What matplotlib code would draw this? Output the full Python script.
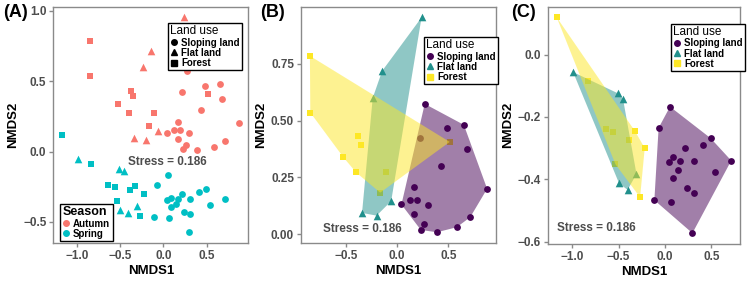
#!/usr/bin/env python3
"""
NMDS ordination of communities by season and land use.
(A) both seasons, (B) autumn with convex hulls, (C) spring with convex hulls.
"""

import numpy as np
import matplotlib.pyplot as plt
from matplotlib.lines import Line2D
from matplotlib.patches import Polygon

plt.rcParams['font.family'] = ['Liberation Sans', 'DejaVu Sans']

# ---- data (NMDS1, NMDS2) ----
land_uses = ["Sloping land", "Flat land", "Forest"]
seasons = ["Autumn", "Spring"]

autumn_sloping_x = [0.269, 0.219, 0.485, 0.650, 0.677, 0.431, 0.877, 0.162, 0.042,
                    0.123, 0.192, 0.296, 0.165, 0.258, 0.231, 0.388, 0.581, 0.712]
autumn_sloping_y = [0.573, 0.423, 0.465, 0.481, 0.376, 0.298, 0.200, 0.209, 0.131,
                    0.150, 0.150, 0.129, 0.089, 0.047, 0.019, 0.009, 0.031, 0.075]
autumn_flat_x = [0.238, -0.146, -0.238, -0.342, -0.200, -0.058]
autumn_flat_y = [0.953, 0.718, 0.599, 0.094, 0.082, 0.146]
autumn_forest_x = [-0.850, -0.846, -0.377, -0.350, -0.523, -0.400, -0.108, -0.165, 0.512]
autumn_forest_y = [0.784, 0.535, 0.432, 0.392, 0.338, 0.272, 0.272, 0.183, 0.406]

spring_sloping_x = [0.054, -0.069, 0.215, 0.038, 0.085, 0.165, 0.142, 0.088, 0.308,
                    0.415, 0.492, 0.538, 0.715, 0.235, 0.308, -0.115, 0.062, 0.296]
spring_sloping_y = [-0.167, -0.235, -0.300, -0.345, -0.329, -0.340, -0.371, -0.397, -0.340,
                    -0.289, -0.268, -0.376, -0.340, -0.427, -0.444, -0.467, -0.472, -0.573]
spring_flat_x = [-0.992, -0.508, -0.454, -0.308, -0.496, -0.404]
spring_flat_y = [-0.056, -0.124, -0.141, -0.383, -0.413, -0.434]
spring_forest_x = [-1.169, -0.831, -0.638, -0.562, -0.392, -0.323, -0.219, -0.535, -0.269]
spring_forest_y = [0.120, -0.085, -0.237, -0.249, -0.275, -0.246, -0.300, -0.352, -0.458]

stress = 0.186

# ---- styling ----
season_colors = {"Autumn": "#F8766D", "Spring": "#00BFC4"}
land_colors = {"Sloping land": "#440154", "Flat land": "#21908C", "Forest": "#FDE725"}
land_markers = {"Sloping land": "o", "Flat land": "^", "Forest": "s"}
marker_size = {"o": 24, "^": 30, "s": 21}
border_col = "#8a8a8a"
tick_col = "#4D4D4D"

data = {
    "Autumn": {
        "Sloping land": (autumn_sloping_x, autumn_sloping_y),
        "Flat land": (autumn_flat_x, autumn_flat_y),
        "Forest": (autumn_forest_x, autumn_forest_y),
    },
    "Spring": {
        "Sloping land": (spring_sloping_x, spring_sloping_y),
        "Flat land": (spring_flat_x, spring_flat_y),
        "Forest": (spring_forest_x, spring_forest_y),
    },
}


def convex_hull(xs, ys):
    # monotone chain
    pts = sorted(set(zip(xs, ys)))
    if len(pts) < 3:
        return pts

    def cross(o, a, b):
        return (a[0] - o[0]) * (b[1] - o[1]) - (a[1] - o[1]) * (b[0] - o[0])

    lower = []
    for p in pts:
        while len(lower) >= 2 and cross(lower[-2], lower[-1], p) <= 0:
            lower.pop()
        lower.append(p)
    upper = []
    for p in reversed(pts):
        while len(upper) >= 2 and cross(upper[-2], upper[-1], p) <= 0:
            upper.pop()
        upper.append(p)
    return lower[:-1] + upper[:-1]


def style_axes(ax, xticks, yticks, ylabels=None):
    for s in ax.spines.values():
        s.set_color(border_col)
        s.set_linewidth(1.0)
    ax.set_xticks(xticks)
    ax.set_yticks(yticks)
    ax.set_xticklabels([("%.1f" % t).replace("-", "\u2212") for t in xticks])
    if ylabels is None:
        ylabels = [("%.1f" % t).replace("-", "\u2212") for t in yticks]
    ax.set_yticklabels(ylabels)
    ax.tick_params(colors=border_col, labelcolor=tick_col, labelsize=8.5,
                   length=3, width=1, pad=2)
    for lab in ax.get_xticklabels() + ax.get_yticklabels():
        lab.set_fontweight("bold")
    ax.set_xlabel("NMDS1", fontsize=9.5, fontweight="bold", labelpad=2)
    ax.set_ylabel("NMDS2", fontsize=9.5, fontweight="bold", labelpad=3)


def set_limits(ax, xs, ys):
    xs, ys = np.asarray(xs), np.asarray(ys)
    dx = (xs.max() - xs.min()) * 0.05
    dy = (ys.max() - ys.min()) * 0.05
    ax.set_xlim(xs.min() - dx, xs.max() + dx)
    ax.set_ylim(ys.min() - dy, ys.max() + dy)


def add_legend(ax, handles, title, anchor, title_size=8.5, title_bold=False):
    leg = ax.legend(handles=handles, title=title, loc="upper left",
                    bbox_to_anchor=anchor, borderaxespad=0, frameon=True,
                    fancybox=False, edgecolor="black", framealpha=1,
                    prop={"size": 7, "weight": "bold"},
                    handlelength=0.8, handletextpad=0.3, labelspacing=0.02,
                    borderpad=0.25)
    leg.get_frame().set_linewidth(1.0)
    leg.get_title().set_fontsize(title_size)
    if title_bold:
        leg.get_title().set_fontweight("bold")
    leg._legend_box.align = "left"
    return leg


fig = plt.figure(figsize=(7.47, 2.84), dpi=100)
axA = fig.add_axes([0.0714, 0.1444, 0.261, 0.832])
axB = fig.add_axes([0.4030, 0.1444, 0.261, 0.832])
axC = fig.add_axes([0.7336, 0.1410, 0.257, 0.836])

# ---- (A) both seasons ----
all_x, all_y = [], []
for season in seasons:
    for lu in land_uses:
        x, y = data[season][lu]
        all_x += x
        all_y += y
        m = land_markers[lu]
        axA.scatter(x, y, marker=m, s=marker_size[m], color=season_colors[season],
                    linewidths=0, zorder=3)
set_limits(axA, all_x, all_y)
style_axes(axA, [-1.0, -0.5, 0.0, 0.5], [-0.5, 0.0, 0.5, 1.0])
axA.text(0.05, -0.075, "Stress = %.3f" % stress, ha="center", va="center",
         fontsize=8.5, fontweight="bold", color=tick_col)

land_handles = [Line2D([], [], ls="", marker=land_markers[lu], color="black",
                       markersize=4, label=lu) for lu in land_uses]
legA1 = add_legend(axA, land_handles, "Land use", (0.588, 0.931))
axA.add_artist(legA1)
season_handles = [Line2D([], [], ls="", marker="o", color=season_colors[s],
                         markersize=4, label=s) for s in seasons]
add_legend(axA, season_handles, "Season", (0.034, 0.165), title_size=9, title_bold=True)

# ---- (B) autumn, (C) spring with hulls ----
for ax, season, ticks, stress_xy, leg_anchor in [
        (axB, "Autumn", ([-0.5, 0.0, 0.5], [0.0, 0.25, 0.5, 0.75]), (-0.34, 0.022), (0.631, 0.872)),
        (axC, "Spring", ([-1.0, -0.5, 0.0, 0.5], [-0.6, -0.4, -0.2, 0.0]), (-0.74, -0.557), (0.64, 0.927))]:
    sx, sy = [], []
    for lu in land_uses:
        x, y = data[season][lu]
        sx += x
        sy += y
        m = land_markers[lu]
        ax.scatter(x, y, marker=m, s=marker_size[m], color=land_colors[lu],
                   linewidths=0, zorder=2)
        hull = convex_hull(x, y)
        ax.add_patch(Polygon(hull, closed=True, facecolor=land_colors[lu],
                             edgecolor="none", alpha=0.5, zorder=3))
    set_limits(ax, sx, sy)
    xt, yt = ticks
    if season == "Autumn":
        style_axes(ax, xt, yt, ["%.2f" % t for t in yt])
    else:
        style_axes(ax, xt, yt)
    ax.text(stress_xy[0], stress_xy[1], "Stress = %.3f" % stress, ha="center",
            va="center", fontsize=8.5, fontweight="bold", color=tick_col, zorder=4)
    handles = [Line2D([], [], ls="", marker=land_markers[lu], color=land_colors[lu],
                      markersize=4, label=lu) for lu in land_uses]
    leg = add_legend(ax, handles, "Land use", leg_anchor)
    leg.set_zorder(5)

# panel tags
fig.text(0.004, 0.985, "(A)", fontsize=13, fontweight="bold", va="top", ha="left")
fig.text(0.348, 0.985, "(B)", fontsize=13, fontweight="bold", va="top", ha="left")
fig.text(0.684, 0.985, "(C)", fontsize=13, fontweight="bold", va="top", ha="left")

fig.savefig("out.png", dpi=100)
